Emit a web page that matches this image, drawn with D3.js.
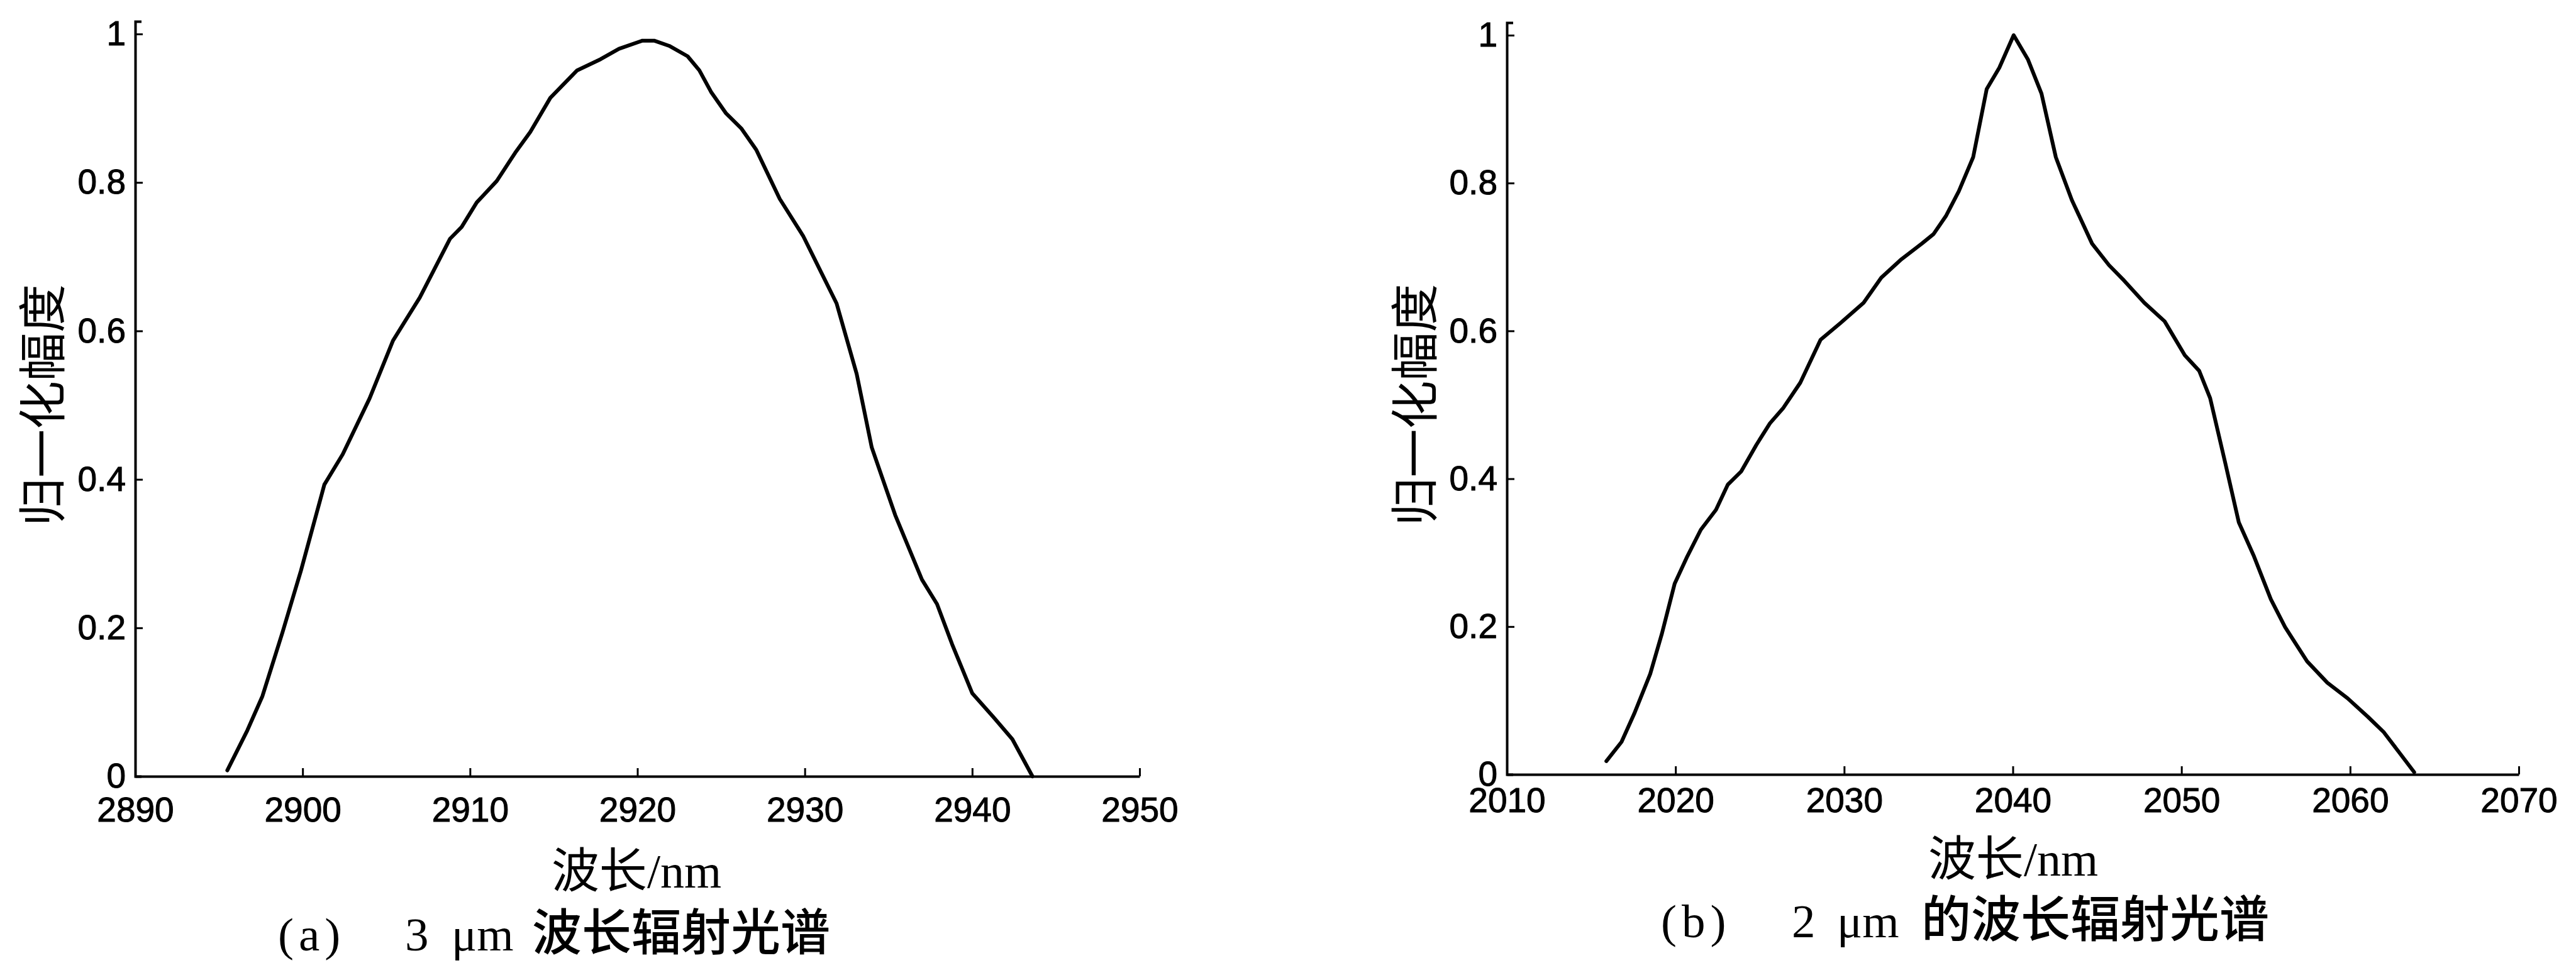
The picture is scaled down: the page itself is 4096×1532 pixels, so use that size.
<!DOCTYPE html>
<html>
<head>
<meta charset="utf-8">
<script src="https://cdn.jsdelivr.net/npm/d3@7"></script>
<style>
  body { margin: 0; background: #fff; }
</style>
</head>
<body>
<div id="chart"></div>
<script>
// panel (a): 3 um band
var wavelengthA = [2895.5, 2896.7, 2897.6, 2898.8, 2899.9, 2901.3, 2902.4, 2904.0, 2905.4, 2907.0,
  2908.8, 2909.5, 2910.4, 2911.6, 2912.7, 2913.6, 2914.8, 2916.4, 2917.8, 2918.9,
  2920.3, 2921.0, 2921.9, 2923.0, 2923.7, 2924.4, 2925.3, 2926.2, 2927.1, 2928.5,
  2929.9, 2931.0, 2931.9, 2933.1, 2934.0, 2935.4, 2937.0, 2937.9, 2938.8, 2940.0,
  2941.3, 2942.4, 2943.6];
var amplitudeA = [0.008, 0.062, 0.108, 0.194, 0.277, 0.393, 0.434, 0.509, 0.587, 0.645,
  0.724, 0.740, 0.773, 0.802, 0.840, 0.868, 0.914, 0.951, 0.966, 0.980,
  0.991, 0.991, 0.984, 0.970, 0.951, 0.922, 0.893, 0.873, 0.844, 0.778,
  0.728, 0.678, 0.637, 0.542, 0.443, 0.352, 0.265, 0.232, 0.178, 0.112,
  0.079, 0.050, 0.0];

// panel (b): 2 um band
var wavelengthB = [2015.9, 2016.8, 2017.55, 2018.5, 2019.2, 2019.95, 2020.7, 2021.5, 2022.4, 2023.1,
  2023.9, 2024.8, 2025.6, 2026.4, 2027.4, 2028.6, 2029.8, 2031.15, 2032.2, 2033.4,
  2034.6, 2035.3, 2036.05, 2036.8, 2037.65, 2038.45, 2039.2, 2040.05, 2040.9, 2041.7,
  2042.55, 2043.5, 2044.7, 2045.7, 2046.6, 2047.8, 2049.0, 2050.2, 2051.05, 2051.7,
  2052.6, 2053.4, 2054.3, 2055.3, 2056.15, 2057.45, 2058.65, 2059.85, 2061.05, 2062.0,
  2063.8];
var amplitudeB = [0.018, 0.044, 0.082, 0.136, 0.191, 0.258, 0.295, 0.331, 0.358, 0.392,
  0.410, 0.446, 0.475, 0.496, 0.530, 0.588, 0.611, 0.638, 0.672, 0.697,
  0.718, 0.731, 0.756, 0.789, 0.835, 0.927, 0.956, 1.0, 0.967, 0.921,
  0.835, 0.777, 0.718, 0.689, 0.668, 0.638, 0.613, 0.567, 0.546, 0.509,
  0.421, 0.341, 0.295, 0.237, 0.199, 0.153, 0.124, 0.103, 0.078, 0.057,
  0.003];

var xTicksA = [2890, 2900, 2910, 2920, 2930, 2940, 2950];
var xTicksB = [2010, 2020, 2030, 2040, 2050, 2060, 2070];
var yTicks = [0, 0.2, 0.4, 0.6, 0.8, 1];

var yLabel = "归一化幅度";
var xLabel = "波长/nm";
var captionA = ["(a)", "3", "μm", "波长辐射光谱"];
var captionB = ["(b)", "2", "μm", "的波长辐射光谱"];

var svgWidth = 4096;
var svgHeight = 1532;
var yMax = 1.017;

var tickFont = "'Liberation Sans', Arial, sans-serif";
var latinFont = "'Liberation Serif', 'Times New Roman', serif";
var cjkFont = "'Noto Sans CJK SC', sans-serif";

var svg = d3.select("#chart")
  .append("svg")
  .attr("width", svgWidth)
  .attr("height", svgHeight)
  .style("background", "#fff");

// layout for each panel (pixel positions only)
var panelA = {
  xs: wavelengthA, ys: amplitudeA, ticks: xTicksA,
  left: 215, right: 1812, top: 34, bottom: 1235,
  xPad: 33, yLabelX: 62, xLabelX: 1012, xLabelY: 1412,
  caption: captionA, capY: 1512, capX: [442, 644, 718, 846]
};
var panelB = {
  xs: wavelengthB, ys: amplitudeB, ticks: xTicksB,
  left: 2396, right: 4005, top: 36, bottom: 1232,
  xPad: 21, yLabelX: 2244, xLabelX: 3201, xLabelY: 1393,
  caption: captionB, capY: 1491, capX: [2641, 2849, 2921, 3055]
};

function drawPanel(p) {
  var g = svg.append("g");

  var x = d3.scaleLinear()
    .domain([p.ticks[0], p.ticks[p.ticks.length - 1]])
    .range([p.left, p.right]);

  var y = d3.scaleLinear()
    .domain([0, yMax])
    .range([p.bottom, p.top]);

  // x axis, ticks pointing inward like matlab
  var xAxis = g.append("g")
    .attr("transform", `translate(0, ${p.bottom})`)
    .call(d3.axisBottom(x)
      .tickValues(p.ticks)
      .tickSize(-13)
      .tickSizeOuter(0)
      .tickPadding(p.xPad)
      .tickFormat(d3.format("d")));

  // y axis
  var yAxis = g.append("g")
    .attr("transform", `translate(${p.left}, 0)`)
    .call(d3.axisLeft(y)
      .tickValues(yTicks)
      .tickSize(-12)
      .tickSizeOuter(-10)
      .tickPadding(15)
      .tickFormat(d3.format("~g")));

  [xAxis, yAxis].forEach(function(a) {
    a.attr("font-family", null).attr("font-size", null);
    a.select(".domain").attr("stroke", "#000").attr("stroke-width", 4);
    a.selectAll(".tick line").attr("stroke", "#000").attr("stroke-width", 3);
    a.selectAll(".tick text")
      .attr("fill", "#000")
      .attr("stroke", "#000")
      .attr("stroke-width", 1)
      .style("font-family", tickFont)
      .style("font-size", "55px");
  });

  // spectrum line
  var pts = p.xs.map(function(d, i) { return [d, p.ys[i]]; });
  var line = d3.line()
    .x(d => x(d[0]))
    .y(d => y(d[1]));

  g.append("path")
    .datum(pts)
    .attr("d", line)
    .attr("fill", "none")
    .attr("stroke", "#000")
    .attr("stroke-width", 6)
    .attr("stroke-linejoin", "round")
    .attr("stroke-linecap", "round");

  // y axis title
  g.append("text")
    .attr("transform", `translate(${p.yLabelX}, ${(p.top + p.bottom) / 2 + 10}) rotate(-90)`)
    .attr("text-anchor", "middle")
    .attr("dominant-baseline", "central")
    .style("font-family", cjkFont)
    .style("font-size", "77px")
    .text(yLabel);

  // x axis title
  var xt = g.append("text")
    .attr("x", p.xLabelX)
    .attr("y", p.xLabelY)
    .attr("text-anchor", "middle")
    .style("font-size", "76px");
  xt.append("tspan").style("font-family", cjkFont).text(xLabel.slice(0, 2));
  xt.append("tspan").style("font-family", latinFont).text(xLabel.slice(2));

  // caption under the panel
  p.caption.forEach(function(s, i) {
    g.append("text")
      .attr("x", p.capX[i])
      .attr("y", p.capY)
      .style("font-family", i < 3 ? latinFont : cjkFont)
      .style("font-size", i < 3 ? "75px" : "79px")
      .style("font-weight", i < 3 ? null : "500")
      .style("letter-spacing", i === 0 ? "8px" : null)
      .text(s);
  });
}

drawPanel(panelA);
drawPanel(panelB);
</script>
</body>
</html>
